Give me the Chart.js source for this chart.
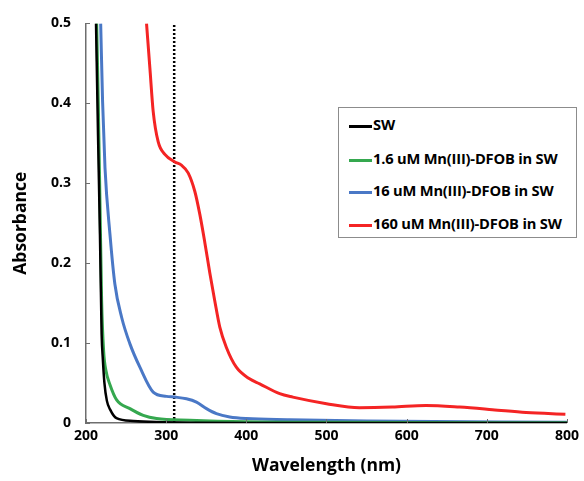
<!DOCTYPE html>
<html>
<head>
<meta charset="utf-8">
<script src="https://cdn.jsdelivr.net/npm/chart.js@4"></script>
<style>
  html, body { margin: 0; padding: 0; background: #fff; }
  #wrap { position: relative; width: 584px; height: 481px; }
  #legend {
    position: absolute; left: 338px; top: 107px; width: 237px; height: 129px;
    border: 1px solid #8c8c8c; background: #fff;
    font: bold 14.7px "Open Sans", sans-serif; color: #000; letter-spacing: -0.2px;
  }
  #legend div { position: absolute; left: 10px; height: 18px; line-height: 18px; white-space: nowrap; }
  #legend span { display: inline-block; width: 23px; height: 3px; vertical-align: middle; margin-right: 1px; }
</style>
</head>
<body>
<div id="wrap">
  <canvas id="grafico" width="584" height="481"></canvas>
  <div id="legend"></div>
</div>
<script>
// ******************************* DATOS ****************************
const nombres = ["SW", "1.6 uM Mn(III)-DFOB in SW", "16 uM Mn(III)-DFOB in SW", "160 uM Mn(III)-DFOB in SW"];
const colores = ["#000000", "#35a84f", "#4a78c6", "#f42424"];

// SW
const swX = [212.5, 215, 217.4, 219.5, 221, 223, 226, 230, 238, 259, 288, 330, 400, 800];
const swY = [0.5, 0.36, 0.236, 0.111, 0.08, 0.05, 0.028, 0.017, 0.006, 0.0025, 0.0012, 0.0004, 0, 0];

// 1.6 uM
const verdeX = [213.3, 215.3, 217.4, 219.5, 222, 225, 229.9, 238.2, 254.8, 271.4, 288, 329.5, 400, 500, 800];
const verdeY = [0.5, 0.402, 0.278, 0.153, 0.09, 0.065, 0.048, 0.029, 0.018, 0.0096, 0.0055, 0.0034, 0.0015, 0.0008, 0.0004];

// 16 uM
const azulX = [218.3, 220.7, 223.7, 229.9, 236, 244.5, 254.8, 267.2, 283.8, 300.4, 310.8, 325.3, 337.8, 350.3, 362.7, 379.3, 400, 454, 550, 800];
const azulY = [0.5, 0.402, 0.319, 0.236, 0.174, 0.132, 0.099, 0.0698, 0.0387, 0.0333, 0.0324, 0.0304, 0.0262, 0.018, 0.0117, 0.0075, 0.0055, 0.0042, 0.0025, 0.001];

// 160 uM
const rojoX = [275.5, 279.7, 283.8, 290, 298.4, 310.8, 319, 327.4, 335.7, 342, 348.2, 354.4, 360.6, 366.9, 375, 387.5, 404, 416.7, 441.6, 458, 500, 541, 582, 624, 666, 707, 749, 798];
const rojoY = [0.5, 0.444, 0.39, 0.352, 0.336, 0.3267, 0.3226, 0.313, 0.29, 0.261, 0.226, 0.188, 0.153, 0.12, 0.0948, 0.0698, 0.0553, 0.049, 0.0367, 0.0324, 0.0242, 0.0192, 0.02, 0.022, 0.02, 0.0167, 0.013, 0.011];

// Línea punteada vertical
const marcaX = [310, 310];
const marcaY = [0, 0.5];

const ticksX = [200, 300, 400, 500, 600, 700, 800];
const ticksY = [0, 0.1, 0.2, 0.3, 0.4, 0.5];

function puntos(xs, ys) {
  return xs.map((x, i) => ({ x: x, y: ys[i] }));
}

const series = [puntos(swX, swY), puntos(verdeX, verdeY), puntos(azulX, azulY), puntos(rojoX, rojoY)];

const datasets = series.map((d, i) => ({
  label: nombres[i],
  data: d,
  borderColor: colores[i],
  borderWidth: i === 0 ? 2.5 : 3,
  pointRadius: 0,
  fill: false,
  cubicInterpolationMode: "monotone",
}));

datasets.push({
  label: "marca",
  data: puntos(marcaX, marcaY),
  borderColor: "#000000",
  borderWidth: 2.5,
  borderDash: [2, 2],
  pointRadius: 0,
  fill: false,
});

// Ticks interiores dibujados sobre los ejes
const ticksInteriores = {
  id: "ticksInteriores",
  afterDraw(chart) {
    const ctx = chart.ctx;
    const x = chart.scales.x;
    const y = chart.scales.y;
    ctx.save();
    ctx.strokeStyle = "#6e6e6e";
    ctx.lineWidth = 1;
    ctx.beginPath();
    ticksX.forEach((v) => {
      const px = Math.round(x.getPixelForValue(v)) + 0.5;
      ctx.moveTo(px, y.bottom);
      ctx.lineTo(px, y.bottom - 4);
    });
    ticksY.forEach((v) => {
      const py = Math.round(y.getPixelForValue(v)) + 0.5;
      ctx.moveTo(x.left, py);
      ctx.lineTo(x.left + 4, py);
    });
    ctx.stroke();
    ctx.restore();
  },
};

const fuente = "'Open Sans', sans-serif";

new Chart(document.getElementById("grafico"), {
  type: "line",
  data: { datasets: datasets },
  plugins: [ticksInteriores],
  options: {
    responsive: false,
    animation: false,
    layout: { padding: { top: 22, right: 16, left: 0, bottom: 0 } },
    plugins: { legend: { display: false }, tooltip: { enabled: false } },
    scales: {
      x: {
        type: "linear",
        min: 200,
        max: 800,
        afterBuildTicks: (s) => { s.ticks = ticksX.map((v) => ({ value: v })); },
        afterFit: (s) => { s.height = 58; },
        grid: { display: false, drawTicks: false },
        border: { display: true, color: "#6e6e6e", width: 1.5 },
        ticks: { color: "#000", padding: 5, font: { family: fuente, weight: "bold", size: 14 } },
        title: {
          display: true,
          text: "Wavelength (nm)",
          color: "#000",
          padding: { top: 2 },
          font: { family: fuente, weight: "bold", size: 17.5 },
        },
      },
      y: {
        min: 0,
        max: 0.5,
        afterBuildTicks: (s) => { s.ticks = ticksY.map((v) => ({ value: v })); },
        afterFit: (s) => { s.width = 86; },
        grid: { display: false, drawTicks: false },
        border: { display: true, color: "#6e6e6e", width: 1.5 },
        ticks: {
          color: "#000",
          padding: 15,
          font: { family: fuente, weight: "bold", size: 14 },
          callback: (v) => (v === 0 ? "0" : v.toFixed(1)),
        },
        title: {
          display: true,
          text: "Absorbance",
          color: "#000",
          padding: { top: 11, bottom: 0 },
          font: { family: fuente, weight: "bold", size: 17.5 },
        },
      },
    },
  },
});

// Leyenda
const leyenda = document.getElementById("legend");
const posiciones = [16, 50, 82, 115];
nombres.forEach((n, i) => {
  const item = document.createElement("div");
  item.style.top = (posiciones[i] - 9) + "px";
  item.innerHTML = '<span style="background:' + colores[i] + '"></span>' + n;
  leyenda.appendChild(item);
});
</script>
</body>
</html>
